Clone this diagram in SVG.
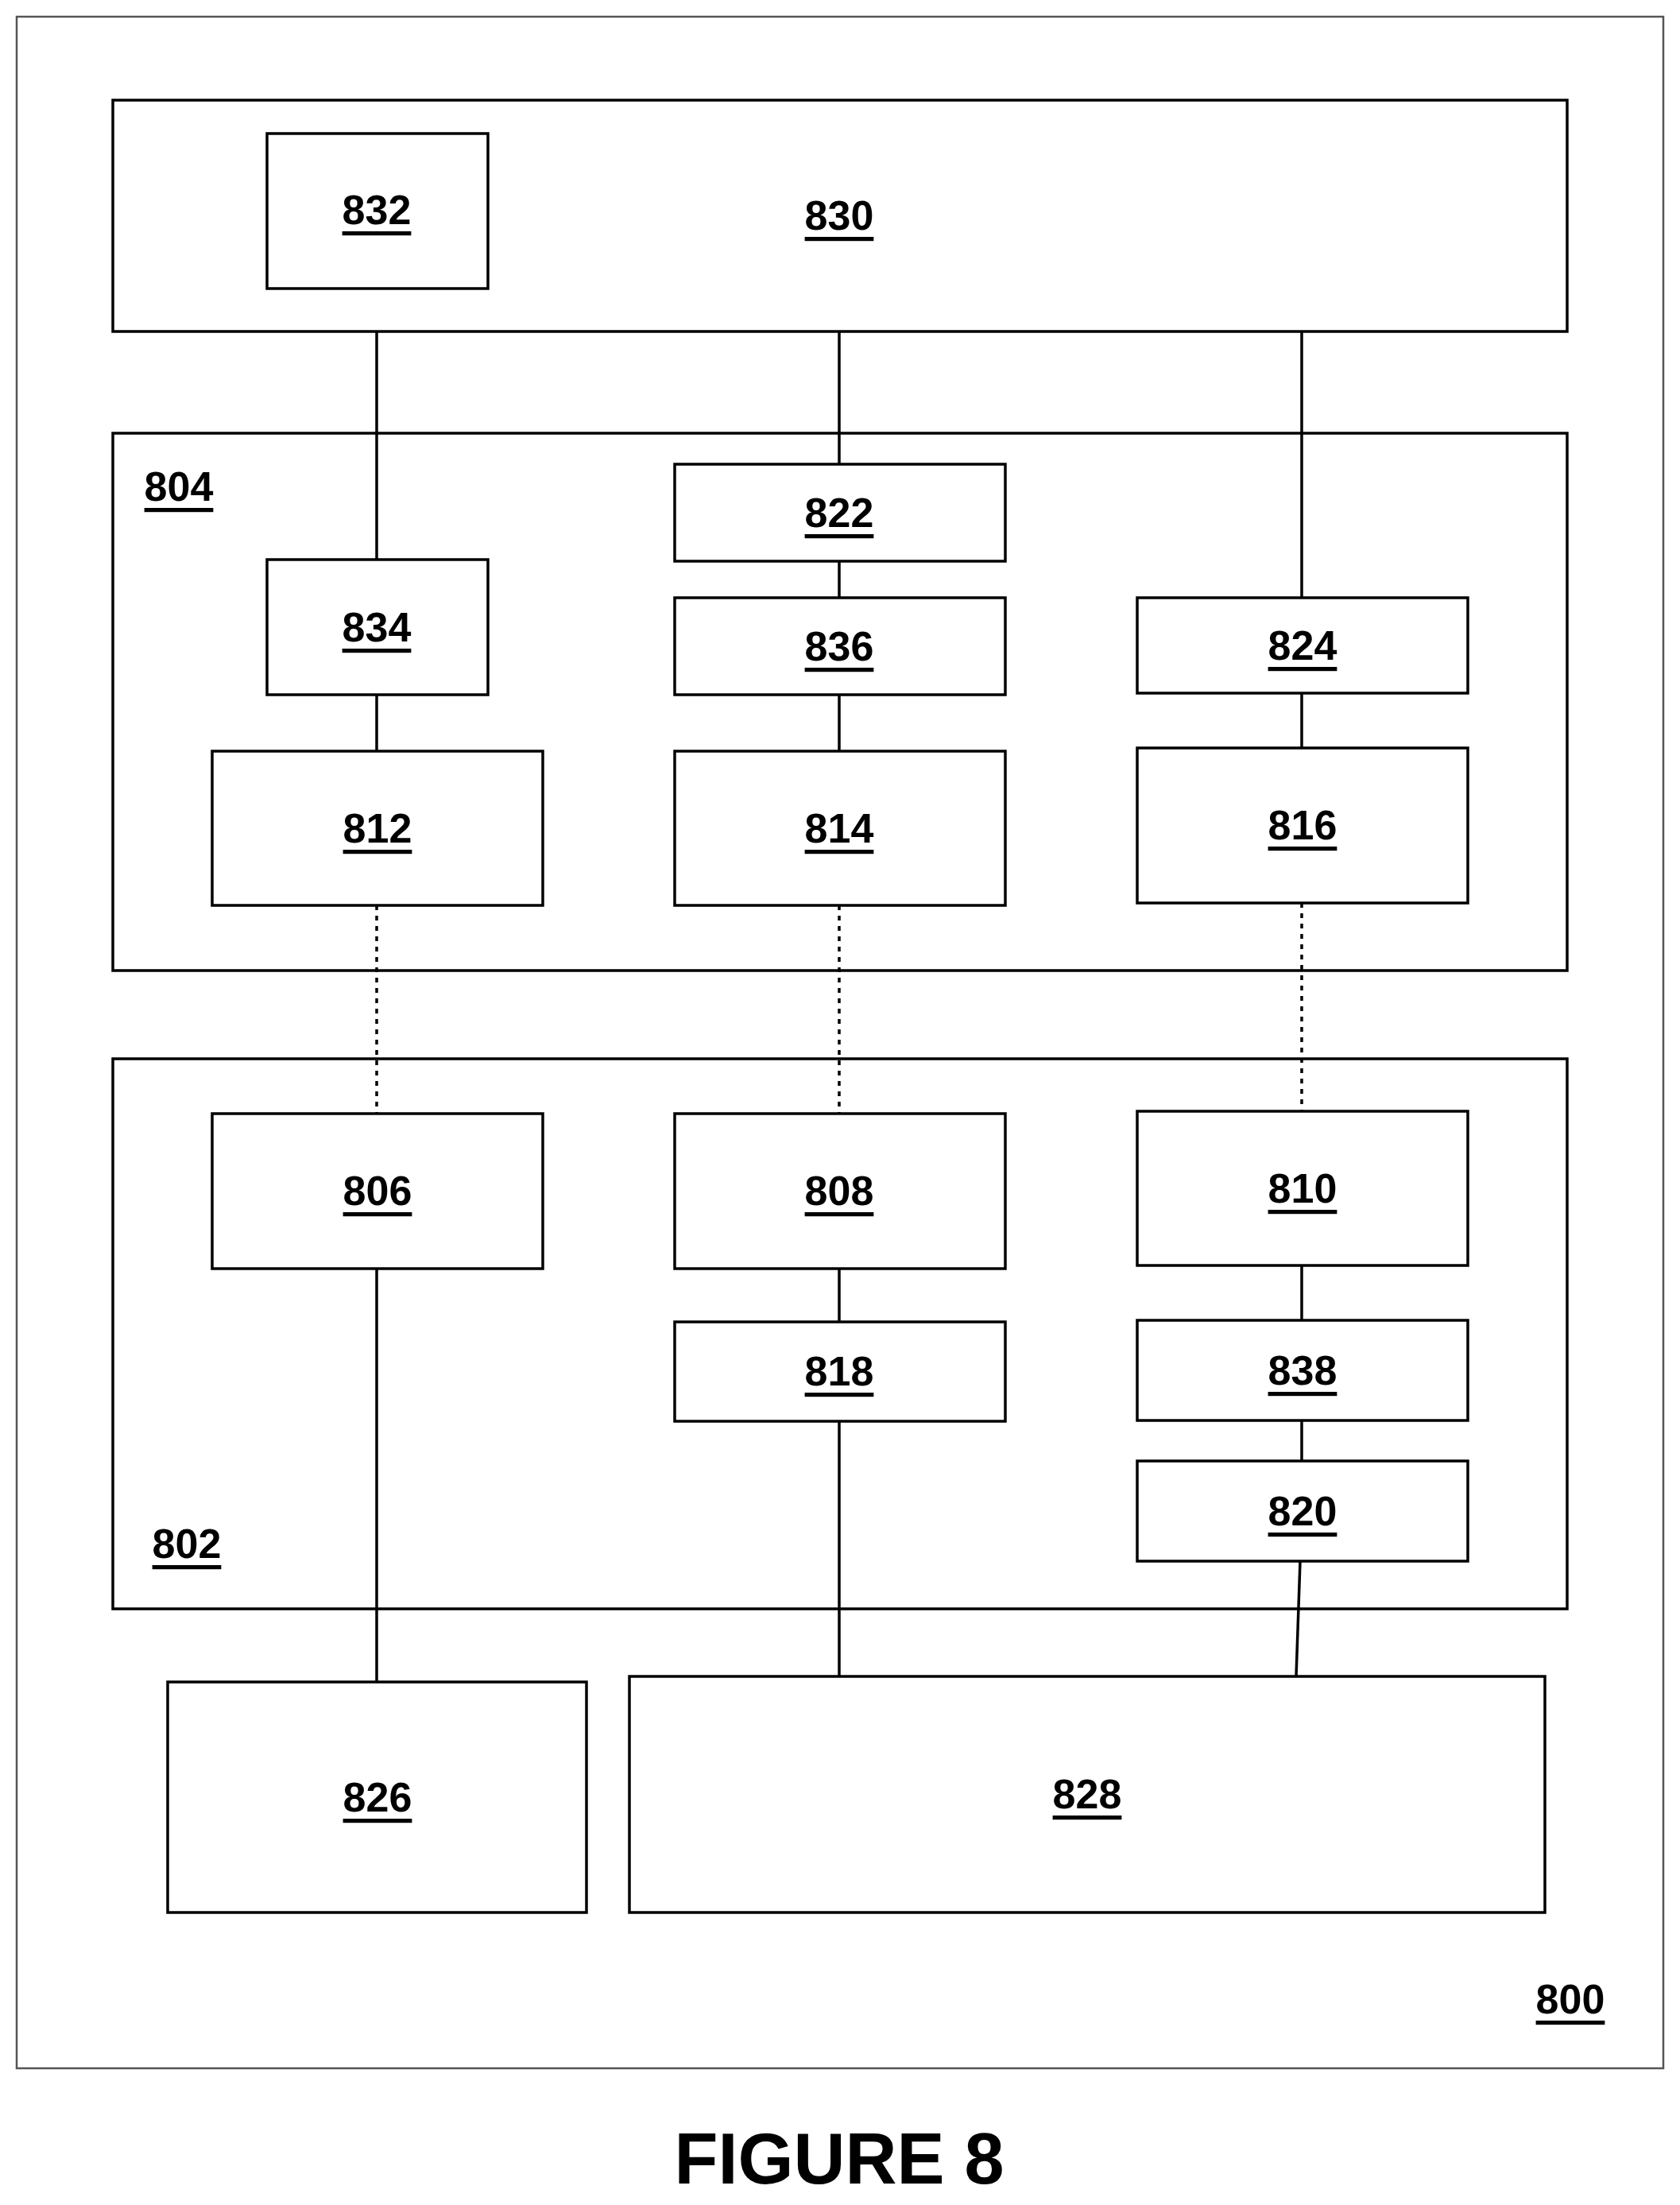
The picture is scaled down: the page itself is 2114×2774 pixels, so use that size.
<svg xmlns="http://www.w3.org/2000/svg" width="2114" height="2774" viewBox="0 0 2114 2774">
<style>
rect{fill:#fff;stroke:#000;stroke-width:3.5}
.frame{stroke:#555;stroke-width:2.5}
text{font-family:"Liberation Sans Narrow","Liberation Sans",Arial,sans-serif;font-weight:bold;font-size:52px;text-decoration:underline;text-anchor:middle;dominant-baseline:central;fill:#000}
.c line{stroke:#000;stroke-width:3.5}
.c .d{stroke-dasharray:6 7}
.fig{font-family:"Liberation Sans",Arial,sans-serif;font-size:90px;text-decoration:none}
</style>
<rect width="2114" height="2774" style="stroke:none"/>
<rect class="frame" x="21" y="21" width="2072" height="2581"/>
<g id="n830"><rect x="142" y="126" width="1830" height="291"/><text x="1056" y="271">830</text></g>
<g id="n832"><rect x="336" y="168" width="278" height="195"/><text x="474" y="264">832</text></g>
<g id="n804"><rect x="142" y="545" width="1830" height="676"/><text x="225" y="612">804</text></g>
<g id="n802"><rect x="142" y="1332" width="1830" height="692"/><text x="235" y="1942">802</text></g>
<g class="c">
<line x1="474" y1="417" x2="474" y2="704"/><line x1="474" y1="874" x2="474" y2="945"/>
<line class="d" x1="474" y1="1139" x2="474" y2="1401"/><line x1="474" y1="1596" x2="474" y2="2116"/>
<line x1="1056" y1="417" x2="1056" y2="584"/><line x1="1056" y1="706" x2="1056" y2="752"/>
<line x1="1056" y1="874" x2="1056" y2="945"/><line class="d" x1="1056" y1="1139" x2="1056" y2="1401"/>
<line x1="1056" y1="1596" x2="1056" y2="1663"/><line x1="1056" y1="1788" x2="1056" y2="2109"/>
<line x1="1638" y1="417" x2="1638" y2="752"/><line x1="1638" y1="872" x2="1638" y2="941"/>
<line class="d" x1="1638" y1="1136" x2="1638" y2="1398"/><line x1="1638" y1="1592" x2="1638" y2="1661"/>
<line x1="1638" y1="1787" x2="1638" y2="1838"/><line x1="1636" y1="1964" x2="1631" y2="2109"/>
</g>
<g id="n822"><rect x="849" y="584" width="416" height="122"/><text x="1056" y="645">822</text></g>
<g id="n834"><rect x="336" y="704" width="278" height="170"/><text x="474" y="789">834</text></g>
<g id="n836"><rect x="849" y="752" width="416" height="122"/><text x="1056" y="813">836</text></g>
<g id="n824"><rect x="1431" y="752" width="416" height="120"/><text x="1639" y="812">824</text></g>
<g id="n812"><rect x="267" y="945" width="416" height="194"/><text x="475" y="1042">812</text></g>
<g id="n814"><rect x="849" y="945" width="416" height="194"/><text x="1056" y="1042">814</text></g>
<g id="n816"><rect x="1431" y="941" width="416" height="195"/><text x="1639" y="1038">816</text></g>
<g id="n806"><rect x="267" y="1401" width="416" height="195"/><text x="475" y="1498">806</text></g>
<g id="n808"><rect x="849" y="1401" width="416" height="195"/><text x="1056" y="1498">808</text></g>
<g id="n810"><rect x="1431" y="1398" width="416" height="194"/><text x="1639" y="1495">810</text></g>
<g id="n818"><rect x="849" y="1663" width="416" height="125"/><text x="1056" y="1725">818</text></g>
<g id="n838"><rect x="1431" y="1661" width="416" height="126"/><text x="1639" y="1724">838</text></g>
<g id="n820"><rect x="1431" y="1838" width="416" height="126"/><text x="1639" y="1901">820</text></g>
<g id="n826"><rect x="211" y="2116" width="527" height="290"/><text x="475" y="2261">826</text></g>
<g id="n828"><rect x="792" y="2109" width="1152" height="297"/><text x="1368" y="2257">828</text></g>
<text x="1976" y="2515">800</text>
<text class="fig" x="1056" y="2716">FIGURE 8</text>
</svg>
